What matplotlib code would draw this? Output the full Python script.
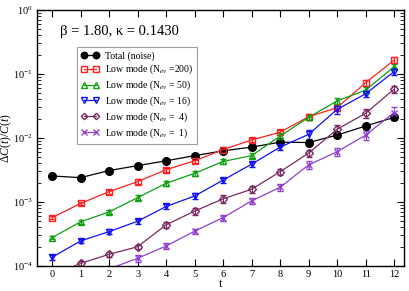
import matplotlib
matplotlib.use("Agg")
import matplotlib.pyplot as plt
import numpy as np
from matplotlib.ticker import LogLocator, NullFormatter, FixedLocator
from matplotlib.lines import Line2D

plt.rcParams['font.family'] = ['Liberation Serif', 'DejaVu Serif']
plt.rcParams['mathtext.fontset'] = 'custom'
plt.rcParams['mathtext.rm'] = 'Liberation Serif'
plt.rcParams['mathtext.it'] = 'Liberation Serif:italic'

t = np.arange(13)

total = [2.55e-3, 2.4e-3, 3.1e-3, 3.7e-3, 4.4e-3, 5.3e-3, 6.3e-3, 7.2e-3, 8.6e-3, 8.5e-3, 1.11e-2, 1.54e-2, 2.1e-2]
nev200 = [5.7e-4, 9.5e-4, 1.45e-3, 2.08e-3, 3.2e-3, 4.4e-3, 6.6e-3, 9.3e-3, 1.23e-2, 2.15e-2, 2.98e-2, 7.3e-2, 0.165]
nev50 = [2.77e-4, 4.9e-4, 7.0e-4, 1.17e-3, 1.96e-3, 2.8e-3, 4.3e-3, 5.3e-3, 1.07e-2, 2.1e-2, 3.8e-2, 5.6e-2, 0.13]
nev16 = [1.37e-4, 2.46e-4, 3.45e-4, 5.0e-4, 8.5e-4, 1.24e-3, 2.2e-3, 3.9e-3, 7.2e-3, 1.14e-2, 2.8e-2, 4.9e-2, 0.109]
nev4 = [7.0e-5, 1.1e-4, 1.52e-4, 2.0e-4, 4.4e-4, 7.2e-4, 1.12e-3, 1.58e-3, 2.97e-3, 5.8e-3, 1.37e-2, 2.43e-2, 5.8e-2]
nev1 = [4.0e-5, 6.5e-5, 9.0e-5, 1.32e-4, 2.05e-4, 3.5e-4, 5.7e-4, 1.04e-3, 1.7e-3, 3.8e-3, 6.1e-3, 1.11e-2, 2.5e-2]

err_total = [0.06, 0.07, 0.07, 0.07, 0.07, 0.07, 0.07, 0.08, 0.08, 0.08, 0.08, 0.09, 0.10]
err_200 = [0.06, 0.06, 0.07, 0.08, 0.08, 0.08, 0.08, 0.08, 0.08, 0.10, 0.10, 0.10, 0.10]
err_50 = [0.06, 0.06, 0.08, 0.08, 0.08, 0.08, 0.09, 0.09, 0.10, 0.10, 0.10, 0.10, 0.12]
err_16 = [0.08, 0.08, 0.08, 0.09, 0.10, 0.10, 0.09, 0.10, 0.10, 0.15, 0.15, 0.12, 0.12]
err_4 = [0.08, 0.10, 0.08, 0.08, 0.12, 0.12, 0.14, 0.14, 0.12, 0.12, 0.15, 0.15, 0.12]
err_1 = [0.10, 0.10, 0.10, 0.12, 0.10, 0.10, 0.10, 0.12, 0.12, 0.15, 0.15, 0.15, 0.20]

labels = ['Total (noise)', r'Low mode (N$_{ev}$ =200)', r'Low mode (N$_{ev}$ = 50)',
          r'Low mode (N$_{ev}$ = 16)', r'Low mode (N$_{ev}$ =  4)', r'Low mode (N$_{ev}$ =  1)']
colors = ['black', '#ff2020', '#10a010', '#1010ff', '#7a2a62', '#9040d0']
markers = ['o', 's', '^', 'v', 'D', 'x']
msizes = [5.5, 4.5, 5, 5, 3.8, 5]
series = [total, nev200, nev50, nev16, nev4, nev1]
errs = [err_total, err_200, err_50, err_16, err_4, err_1]

fig = plt.figure(figsize=(4.09, 2.91), dpi=100)
ax = fig.add_axes([0.0905, 0.086, 0.8975, 0.8796])

handles = []
for y, e, c, m, ms, lab in zip(series, errs, colors, markers, msizes, labels):
    y = np.array(y)
    e = np.array(e) * y
    mfc = c if m == 'o' else 'none'
    ax.errorbar(t, y, yerr=e, color=c, marker=m, ms=ms, lw=0.9,
                mfc=mfc, mec=c, mew=1.0,
                capsize=2.5, elinewidth=0.8, capthick=0.8)
    handles.append(Line2D([], [], color=c, marker=m, ms=ms * 0.85, lw=0.9,
                          mfc=mfc, mec=c, mew=1.0, label=lab))

ax.set_yscale('log')
ax.set_xlim(-0.53, 12.35)
ax.set_ylim(1e-4, 1)
ax.xaxis.set_major_locator(FixedLocator(range(13)))
ax.yaxis.set_major_locator(LogLocator(base=10, numticks=10))
ax.yaxis.set_minor_locator(LogLocator(base=10, subs=np.arange(2, 10), numticks=10))
ax.yaxis.set_minor_formatter(NullFormatter())
ax.tick_params(axis='both', which='both', direction='in', top=True, right=True, labelsize=7.5)
ax.tick_params(which='major', length=5, pad=3)
ax.tick_params(which='minor', length=3)
for sp in ax.spines.values():
    sp.set_linewidth(1.0)

ax.set_xlabel('t', fontsize=9, labelpad=-1)
ax.set_ylabel(r'$\Delta C(t)/C(t)$', fontsize=8.5)
ax.yaxis.set_label_coords(-0.062, 0.5)

ax.text(0.063, 0.915, 'β = 1.80, κ = 0.1430', transform=ax.transAxes, fontsize=10.5,
        ha='left', va='center')

leg = ax.legend(handles=handles, loc='upper left', bbox_to_anchor=(0.109, 0.857), fontsize=7,
                numpoints=2, frameon=True, fancybox=False, edgecolor='#888888',
                borderpad=0.45, labelspacing=0.24, handlelength=1.8, handletextpad=0.6,
                borderaxespad=0)
leg.get_frame().set_linewidth(0.8)

fig.savefig('out.png', dpi=100)
